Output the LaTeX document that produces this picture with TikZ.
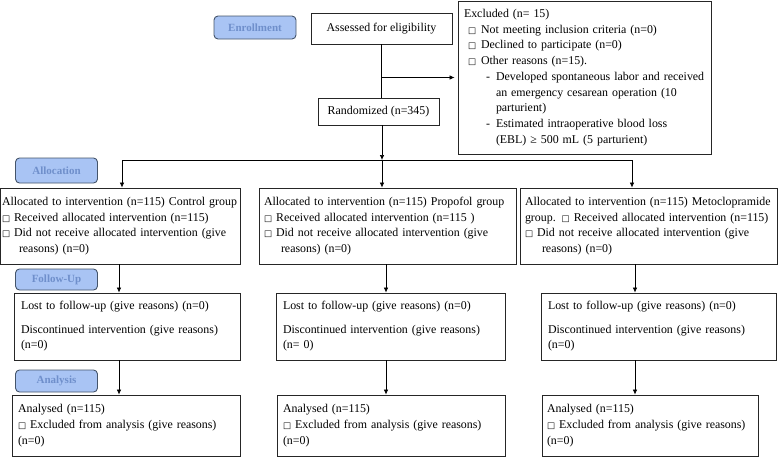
\documentclass[tikz,border=0pt]{standalone}
\usepackage{fontspec}
\setmainfont{Liberation Serif}
\newfontfamily\symfont{DejaVu Sans}[Scale=0.72]
\usetikzlibrary{arrows.meta}
\definecolor{stagefill}{HTML}{A9C4F4}
\definecolor{stagedraw}{HTML}{44546A}
\definecolor{stagetext}{HTML}{6F8FCB}
\newcommand{\bx}{{\symfont □}}
\newcommand{\boxfont}{\fontsize{11.9}{15.5}\selectfont\hyphenpenalty=10000\relax}
\newcommand{\exclfont}{\fontsize{11.9}{15.7}\selectfont\hyphenpenalty=10000\relax}
\newcommand{\anafont}{\fontsize{11.9}{16}\selectfont\hyphenpenalty=10000\relax}
\begin{document}
\begin{tikzpicture}[
    x=1pt, y=-1pt,
    every node/.style={align=left, font=\boxfont},
    stage/.style={draw=stagedraw, fill=stagefill, text=stagetext, rounded corners=4pt,
        line width=0.9pt, minimum width=82pt, inner sep=0pt, align=center,
        font=\fontsize{11}{13}\selectfont\bfseries},
    flow box/.style={draw=black!85, line width=0.8pt, inner xsep=5pt, inner ysep=0pt},
    flow line/.style={draw, line width=0.7pt},
    flow arrow/.style={draw, line width=0.7pt, -{Latex[length=5pt,width=4.5pt]}},
    ]
\useasboundingbox (0,0) rectangle (778,459);
% stage labels
\node[stage, minimum height=23pt] (enroll) at (255,27.5) {Enrollment};
\node[stage, minimum height=25pt] (allocLabel) at (56.5,170.5) {Allocation};
\node[stage, minimum height=21pt] (followLabel) at (56.5,279.5) {Follow-Up};
\node[stage, minimum height=22pt] (analysisLabel) at (56.5,381) {Analysis};
% enrollment
\node[flow box, align=center, minimum width=141pt, minimum height=31pt] (assessed) at (381.5,28.5) {Assessed for eligibility};
\node[flow box, align=center, minimum width=121pt, minimum height=27pt] (randomized) at (378.5,111.5) {Randomized (n=345)};
\node[flow box, minimum width=253pt, minimum height=153pt, text width=241pt, inner xsep=6pt,
      font=\exclfont] (excluded) at (584.5,77.5) {Excluded (n= 15)\\
\hspace*{4pt}\makebox[13pt][l]{\bx}Not meeting inclusion criteria (n=0)\\
\hspace*{4pt}\makebox[13pt][l]{\bx}Declined to participate (n=0)\\
\hspace*{4pt}\makebox[13pt][l]{\bx}Other reasons (n=15).\\
\hspace*{22pt}\makebox[10pt][l]{-}\mbox{Developed spontaneous labor and received}\\
\hspace*{32pt}an emergency cesarean operation (10\\
\hspace*{32pt}parturient)\\
\hspace*{22pt}\makebox[10pt][l]{-}Estimated intraoperative blood loss\\
\hspace*{32pt}(EBL) ≥ 500 mL (5 parturient)};
% allocation
\node[flow box, minimum width=239.5pt, minimum height=76pt, text width=236.5pt, inner xsep=1.5pt] (control) at (120.25,226) {\mbox{Allocated to intervention (n=115) Control group}\\
\bx\ Received allocated intervention (n=115)\\
\bx\ Did not receive allocated intervention (give\\
\hspace*{17pt}reasons) (n=0)};
\node[flow box, minimum width=257pt, minimum height=76pt, text width=247pt] (propofol) at (387.5,226) {\mbox{Allocated to intervention (n=115) Propofol group}\\
\bx\ Received allocated intervention (n=115 )\\
\bx\ Did not receive allocated intervention (give\\
\hspace*{17pt}reasons) (n=0)};
\node[flow box, minimum width=257.5pt, minimum height=76pt, text width=247.5pt] (meto) at (648.75,226) {\mbox{Allocated to intervention (n=115) Metoclopramide}\\
\mbox{group. \bx\ Received allocated intervention (n=115)}\\
\bx\ Did not receive allocated intervention (give\\
\hspace*{17pt}reasons) (n=0)};
% follow-up
\node[flow box, minimum width=226pt, minimum height=67pt, text width=212pt, inner xsep=7pt] (controlFollow) at (127,326.5) {Lost to follow-up (give reasons) (n=0)\\[8pt]
\mbox{Discontinued intervention (give reasons)}\\
(n=0)};
\node[flow box, minimum width=229pt, minimum height=67pt, text width=215pt, inner xsep=7pt] (propofolFollow) at (390.5,326.5) {Lost to follow-up (give reasons) (n=0)\\[8pt]
\mbox{Discontinued intervention (give reasons)}\\
(n= 0)};
\node[flow box, minimum width=235pt, minimum height=67pt, text width=221pt, inner xsep=7pt] (metoFollow) at (658.5,326.5) {Lost to follow-up (give reasons) (n=0)\\[8pt]
\mbox{Discontinued intervention (give reasons)}\\
(n=0)};
% analysis
\node[flow box, minimum width=228pt, minimum height=61pt, text width=216pt, inner xsep=6pt, font=\anafont] (controlAnalysis) at (126,425.5) {Analysed (n=115)\\
\mbox{\bx\ Excluded from analysis (give reasons)}\\
(n=0)};
\node[flow box, minimum width=228pt, minimum height=61pt, text width=216pt, inner xsep=6pt, font=\anafont] (propofolAnalysis) at (391,425.5) {Analysed (n=115)\\
\mbox{\bx\ Excluded from analysis (give reasons)}\\
(n=0)};
\node[flow box, minimum width=216pt, minimum height=61pt, text width=206pt, font=\anafont] (metoAnalysis) at (650,425.5) {Analysed (n=115)\\
\mbox{\bx\ Excluded from analysis (give reasons)}\\
(n=0)};
% connectors
\coordinate (split) at (382,160);
\coordinate (splitL) at (122,160);
\coordinate (splitR) at (632,160);
\coordinate (colL) at (119,0);
\coordinate (colM) at (386,0);
\coordinate (colR) at (635,0);
\draw[flow line] (assessed.south) -- (assessed.south |- randomized.north);
\draw[flow arrow] (assessed.south |- excluded.west) -- ([xshift=-3pt]excluded.west);
\draw[flow arrow] (randomized.south -| split) -- (split);
\draw[flow line] (splitL) -- (splitR);
\draw[flow arrow] (splitL) -- (splitL |- control.north);
\draw[flow arrow] (split) -- (split |- propofol.north);
\draw[flow arrow] (splitR) -- (splitR |- meto.north);
\draw[flow arrow] (control.south -| colL) -- (colL |- controlFollow.north);
\draw[flow arrow] (propofol.south -| colM) -- (colM |- propofolFollow.north);
\draw[flow arrow] (meto.south -| colR) -- (colR |- metoFollow.north);
\draw[flow arrow] (controlFollow.south -| colL) -- (colL |- controlAnalysis.north);
\draw[flow arrow] (propofolFollow.south -| colM) -- (colM |- propofolAnalysis.north);
\draw[flow arrow] (metoFollow.south -| colR) -- (colR |- metoAnalysis.north);
\end{tikzpicture}
\end{document}
